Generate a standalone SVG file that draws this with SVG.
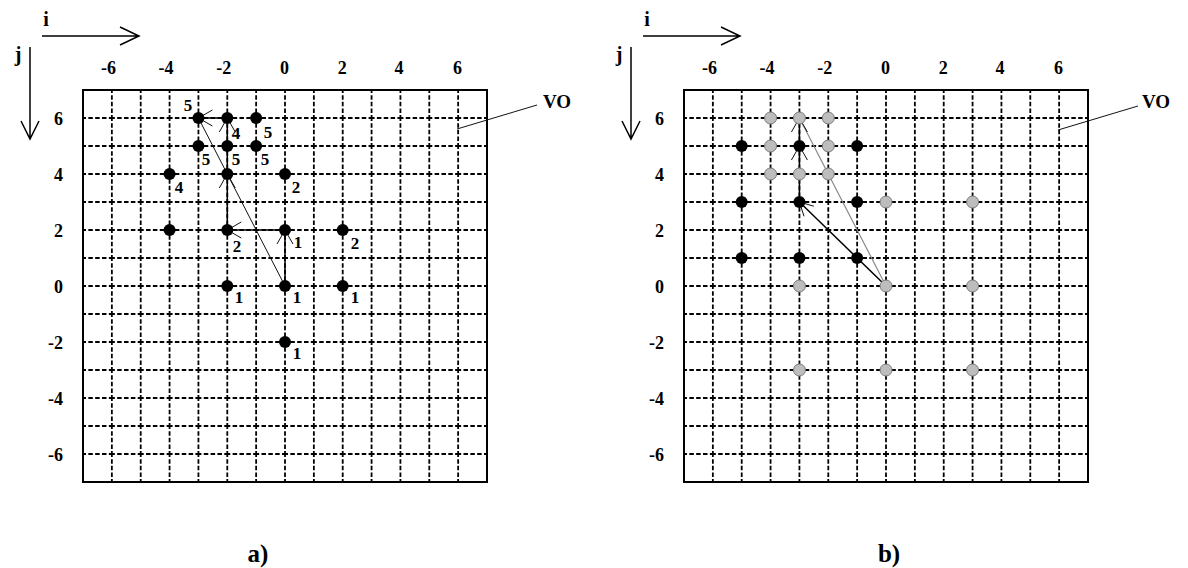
<svg xmlns="http://www.w3.org/2000/svg" width="1188" height="568" viewBox="0 0 1188 568">
<style>
.bg{fill:#fff}
.frame{fill:none;stroke:#000;stroke-width:2}
.h{fill:none;stroke:#000;stroke-width:1.8;stroke-dasharray:6 2.3393 4.5 2.3393 4.5 2.3393 4.5 2.3393;stroke-dashoffset:3}
.v{fill:none;stroke:#000;stroke-width:1.8;stroke-dasharray:6 2.125 4.5 2.125 4.5 2.125 4.5 2.125;stroke-dashoffset:3}
.ax{fill:none;stroke:#000;stroke-width:1.5}
.t{font-family:"Liberation Serif","Times New Roman",serif;font-weight:bold;fill:#000}
.n{font-size:18px}
.end{text-anchor:end}
.ij{font-size:20px;text-anchor:middle}
.vo{font-size:19px}
.cap{font-size:25px;text-anchor:middle}
.lb{font-size:17px;text-anchor:middle}
.path{fill:none;stroke:#000;stroke-width:1.5}
.thin{fill:none;stroke:#111;stroke-width:1}
.gray{fill:none;stroke:#8a8a8a;stroke-width:1.2}
.head{fill:none;stroke:#111;stroke-width:1}
.dot{fill:#000}
.gdot{fill:#bdbdbd;stroke:#7a7a7a;stroke-width:1}
</style>
<rect class="bg" x="0" y="0" width="1188" height="568"/>

<!-- ===== Panel a ===== -->
<g id="panel-a-grid">
<rect x="83" y="90" width="404" height="392" fill="#fff"/>
<path class="h" d="M83 118H487M83 146H487M83 174H487M83 202H487M83 230H487M83 258H487M83 286H487M83 314H487M83 342H487M83 370H487M83 398H487M83 426H487M83 454H487"/>
<path class="v" d="M111.86 90V482M140.71 90V482M169.57 90V482M198.43 90V482M227.29 90V482M256.14 90V482M285 90V482M313.86 90V482M342.71 90V482M371.57 90V482M400.43 90V482M429.29 90V482M458.14 90V482"/>
<rect class="frame" x="83" y="90" width="404" height="392"/>
</g>
<g id="panel-a-axes">
<path class="ax" d="M42 36H139M120 27L139 36L120 45"/>
<path class="ax" d="M30 47V139M21 121L30 139L39 121"/>
<text class="t ij" x="46" y="26">i</text>
<text class="t ij" x="18" y="61">j</text>
<text class="t n end" x="115.9" y="74">-6</text>
<text class="t n end" x="173.6" y="74">-4</text>
<text class="t n end" x="231.3" y="74">-2</text>
<text class="t n end" x="289" y="74">0</text>
<text class="t n end" x="346.7" y="74">2</text>
<text class="t n end" x="403.4" y="74">4</text>
<text class="t n end" x="462.1" y="74">6</text>
<text class="t n end" x="63" y="125">6</text>
<text class="t n end" x="63" y="181">4</text>
<text class="t n end" x="63" y="237">2</text>
<text class="t n end" x="63" y="293">0</text>
<text class="t n end" x="63" y="349">-2</text>
<text class="t n end" x="63" y="405">-4</text>
<text class="t n end" x="63" y="461">-6</text>
<path class="thin" d="M457 129L537 105"/>
<text class="t vo" x="543" y="108">VO</text>
<text class="t cap" x="258" y="562">a)</text>
</g>

<g id="connectors-a">
<path class="thin" d="M285 286L198.43 118"/>
<path class="path" d="M285 286V230H227.29V118H198.43"/>
<path class="head" d="M277 244L285 230L293 244"/>
<path class="head" d="M241.29 222L227.29 230L241.29 238"/>
<path class="head" d="M219.29 188L227.29 174L235.29 188"/>
<path class="head" d="M219.29 132L227.29 118L235.29 132"/>
<path class="head" d="M212.43 110L198.43 118L212.43 126"/>
</g>

<g id="nodes-a">
<g id="a-m3-6"><circle class="dot" cx="198.43" cy="118" r="6"/><text class="t lb" x="188" y="111">5</text></g>
<g id="a-m2-6"><circle class="dot" cx="227.29" cy="118" r="6"/><text class="t lb" x="236" y="139">4</text></g>
<g id="a-m1-6"><circle class="dot" cx="256.14" cy="118" r="6"/><text class="t lb" x="268" y="138">5</text></g>
<g id="a-m3-5"><circle class="dot" cx="198.43" cy="146" r="6"/><text class="t lb" x="206" y="165">5</text></g>
<g id="a-m2-5"><circle class="dot" cx="227.29" cy="146" r="6"/><text class="t lb" x="236" y="165">5</text></g>
<g id="a-m1-5"><circle class="dot" cx="256.14" cy="146" r="6"/><text class="t lb" x="265" y="165">5</text></g>
<g id="a-m4-4"><circle class="dot" cx="169.57" cy="174" r="6"/><text class="t lb" x="179" y="192.5">4</text></g>
<g id="a-m2-4"><circle class="dot" cx="227.29" cy="174" r="6"/></g>
<g id="a-0-4"><circle class="dot" cx="285" cy="174" r="6"/><text class="t lb" x="296" y="192.5">2</text></g>
<g id="a-m4-2"><circle class="dot" cx="169.57" cy="230" r="6"/></g>
<g id="a-m2-2"><circle class="dot" cx="227.29" cy="230" r="6"/><text class="t lb" x="237" y="252">2</text></g>
<g id="a-0-2"><circle class="dot" cx="285" cy="230" r="6"/><text class="t lb" x="298" y="247.5">1</text></g>
<g id="a-2-2"><circle class="dot" cx="342.71" cy="230" r="6"/><text class="t lb" x="355" y="249">2</text></g>
<g id="a-m2-0"><circle class="dot" cx="227.29" cy="286" r="6"/><text class="t lb" x="239" y="302.5">1</text></g>
<g id="a-0-0"><circle class="dot" cx="285" cy="286" r="6"/><text class="t lb" x="297" y="302.5">1</text></g>
<g id="a-2-0"><circle class="dot" cx="342.71" cy="286" r="6"/><text class="t lb" x="355" y="302.5">1</text></g>
<g id="a-0-m2"><circle class="dot" cx="285" cy="342" r="6"/><text class="t lb" x="297" y="358.5">1</text></g>
</g>

<!-- ===== Panel b ===== -->
<g id="panel-b-grid">
<rect x="684" y="90" width="404" height="392" fill="#fff"/>
<path class="h" d="M684 118H1088M684 146H1088M684 174H1088M684 202H1088M684 230H1088M684 258H1088M684 286H1088M684 314H1088M684 342H1088M684 370H1088M684 398H1088M684 426H1088M684 454H1088"/>
<path class="v" d="M712.86 90V482M741.71 90V482M770.57 90V482M799.43 90V482M828.29 90V482M857.14 90V482M886 90V482M914.86 90V482M943.71 90V482M972.57 90V482M1001.43 90V482M1030.29 90V482M1059.14 90V482"/>
<rect class="frame" x="684" y="90" width="404" height="392"/>
</g>
<g id="panel-b-axes">
<path class="ax" d="M643 36H740M721 27L740 36L721 45"/>
<path class="ax" d="M631 47V139M622 121L631 139L640 121"/>
<text class="t ij" x="647" y="26">i</text>
<text class="t ij" x="619" y="61">j</text>
<text class="t n end" x="716.9" y="74">-6</text>
<text class="t n end" x="774.6" y="74">-4</text>
<text class="t n end" x="832.3" y="74">-2</text>
<text class="t n end" x="890" y="74">0</text>
<text class="t n end" x="947.7" y="74">2</text>
<text class="t n end" x="1004.4" y="74">4</text>
<text class="t n end" x="1063.1" y="74">6</text>
<text class="t n end" x="664" y="125">6</text>
<text class="t n end" x="664" y="181">4</text>
<text class="t n end" x="664" y="237">2</text>
<text class="t n end" x="664" y="293">0</text>
<text class="t n end" x="664" y="349">-2</text>
<text class="t n end" x="664" y="405">-4</text>
<text class="t n end" x="664" y="461">-6</text>
<path class="thin" d="M1058 130L1138 106"/>
<text class="t vo" x="1142" y="108">VO</text>
<text class="t cap" x="889" y="562">b)</text>
</g>

<g id="connectors-b">
<path class="gray" d="M886 286L799.43 118"/>
<path class="path" d="M886 286L799.43 202V118"/>
<path class="head" d="M804 216.3L799.43 202L813.8 206.2"/>
<path class="head" d="M791.43 160L799.43 146L807.43 160"/>
<path class="head" d="M791.43 132L799.43 118L807.43 132"/>
</g>

<g id="nodes-b">
<g id="b-m5-5"><circle class="dot" cx="741.71" cy="146" r="6"/></g>
<g id="b-m3-5"><circle class="dot" cx="799.43" cy="146" r="6"/></g>
<g id="b-m1-5"><circle class="dot" cx="857.14" cy="146" r="6"/></g>
<g id="b-m5-3"><circle class="dot" cx="741.71" cy="202" r="6"/></g>
<g id="b-m3-3"><circle class="dot" cx="799.43" cy="202" r="6"/></g>
<g id="b-m1-3"><circle class="dot" cx="857.14" cy="202" r="6"/></g>
<g id="b-m5-1"><circle class="dot" cx="741.71" cy="258" r="6"/></g>
<g id="b-m3-1"><circle class="dot" cx="799.43" cy="258" r="6"/></g>
<g id="b-m1-1"><circle class="dot" cx="857.14" cy="258" r="6"/></g>
<g id="b-m4-6"><circle class="gdot" cx="770.57" cy="118" r="6"/></g>
<g id="b-m3-6"><circle class="gdot" cx="799.43" cy="118" r="6"/></g>
<g id="b-m2-6"><circle class="gdot" cx="828.29" cy="118" r="6"/></g>
<g id="b-m4-5"><circle class="gdot" cx="770.57" cy="146" r="6"/></g>
<g id="b-m2-5"><circle class="gdot" cx="828.29" cy="146" r="6"/></g>
<g id="b-m4-4"><circle class="gdot" cx="770.57" cy="174" r="6"/></g>
<g id="b-m3-4"><circle class="gdot" cx="799.43" cy="174" r="6"/></g>
<g id="b-m2-4"><circle class="gdot" cx="828.29" cy="174" r="6"/></g>
<g id="b-0-3"><circle class="gdot" cx="886" cy="202" r="6"/></g>
<g id="b-3-3"><circle class="gdot" cx="972.57" cy="202" r="6"/></g>
<g id="b-m3-0"><circle class="gdot" cx="799.43" cy="286" r="6"/></g>
<g id="b-0-0"><circle class="gdot" cx="886" cy="286" r="6"/></g>
<g id="b-3-0"><circle class="gdot" cx="972.57" cy="286" r="6"/></g>
<g id="b-m3-m3"><circle class="gdot" cx="799.43" cy="370" r="6"/></g>
<g id="b-0-m3"><circle class="gdot" cx="886" cy="370" r="6"/></g>
<g id="b-3-m3"><circle class="gdot" cx="972.57" cy="370" r="6"/></g>
</g>
</svg>
